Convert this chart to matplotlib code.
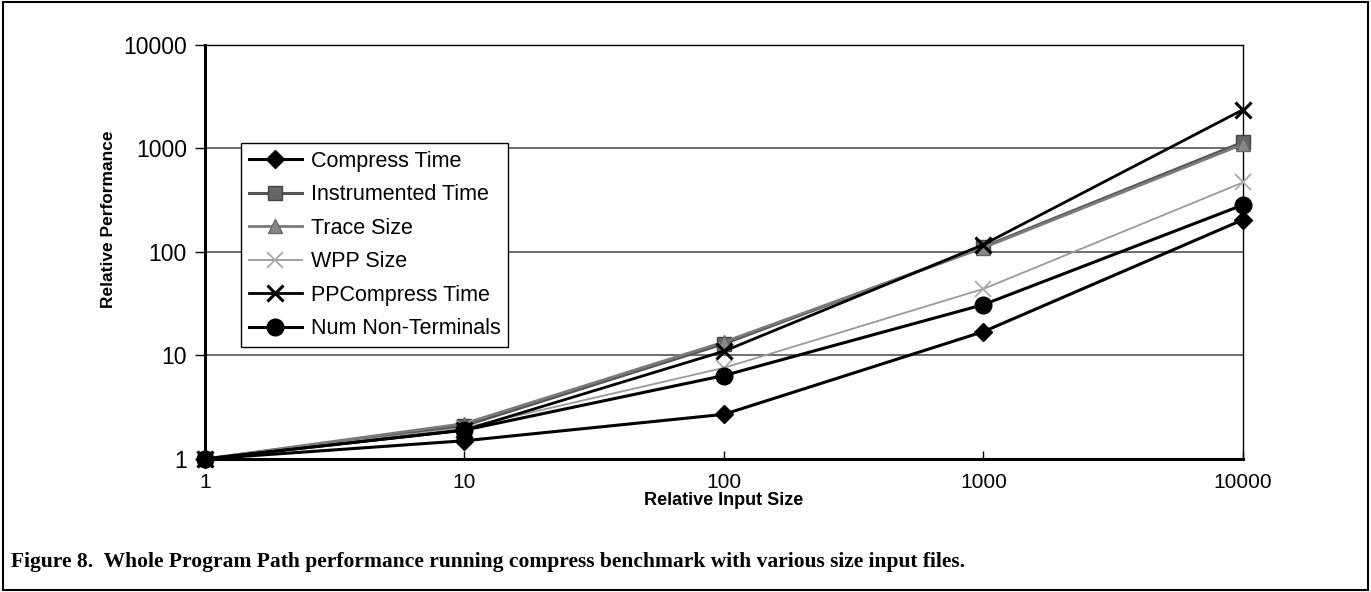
import matplotlib
matplotlib.use("Agg")
import matplotlib.pyplot as plt
from matplotlib.patches import Rectangle

x_sizes = [1, 10, 100, 1000, 10000]
compress_time = [1, 1.5, 2.7, 17, 205]
instrumented_time = [1, 2.1, 13, 112, 1150]
trace_size = [1, 2.2, 13.5, 110, 1100]
wpp_size = [1, 2.0, 7.6, 44, 470]
ppcompress_time = [1, 1.9, 11, 118, 2370]
num_nonterminals = [1, 1.9, 6.4, 31, 285]

y_ticks = [1, 10, 100, 1000, 10000]
tick_labels = ["1", "10", "100", "1000", "10000"]

fig = plt.figure(figsize=(13.71, 5.92), dpi=100)
ax = fig.add_axes([0.1495, 0.2247, 0.7571, 0.6993])
ax.set_xscale("log")
ax.set_yscale("log")
ax.set_xlim(1, 10000)
ax.set_ylim(1, 10000)

series = [
    ("Compress Time", compress_time, dict(color="black", lw=2.2, marker="D", ms=9, mfc="black", mec="black")),
    ("Instrumented Time", instrumented_time, dict(color="#555555", lw=2.2, marker="s", ms=10, mfc="#666666", mec="#444444")),
    ("Trace Size", trace_size, dict(color="#7a7a7a", lw=2.0, marker="^", ms=10, mfc="#888888", mec="#666666")),
    ("WPP Size", wpp_size, dict(color="#9a9a9a", lw=1.3, marker="x", ms=11, mew=1.3, mec="#aaaaaa")),
    ("PPCompress Time", ppcompress_time, dict(color="black", lw=2.0, marker="x", ms=12, mew=2.2, mec="black")),
    ("Num Non-Terminals", num_nonterminals, dict(color="black", lw=2.2, marker="o", ms=12, mfc="black", mec="black")),
]
for name, vals, st in series:
    ax.plot(x_sizes, vals, label=name, zorder=3, clip_on=False, **st)

ax.set_xticks(x_sizes)
ax.set_xticklabels(tick_labels, fontsize=15, family="Liberation Sans")
ax.set_yticks(y_ticks)
ax.set_yticklabels(tick_labels, fontsize=16.5, family="Liberation Sans")
ax.minorticks_off()
ax.tick_params(axis="x", direction="in", length=6, width=1, pad=10)
ax.tick_params(axis="y", direction="out", length=7, width=1, pad=6)
for y in [10, 100, 1000]:
    ax.axhline(y, color="#555555", lw=1.2, zorder=1)
for s in ax.spines.values():
    s.set_linewidth(1.0)
ax.spines["left"].set_linewidth(2.2)
ax.spines["bottom"].set_linewidth(2.2)

ax.set_xlabel("Relative Input Size", fontsize=13, fontweight="bold", family="Liberation Sans", labelpad=0)
ax.set_ylabel("Relative Performance", fontsize=12.5, fontweight="bold", family="Liberation Sans")
ax.yaxis.set_label_coords(-0.086, 0.58)

leg = ax.legend(loc="upper left", bbox_to_anchor=(0.0347, 0.763), frameon=True, fancybox=False,
                edgecolor="black", framealpha=1, prop={"family": "Liberation Sans", "size": 15.5},
                handlelength=2.5, borderpad=0.35, labelspacing=0.58, handletextpad=0.4, borderaxespad=0)
leg.get_frame().set_linewidth(1.0)
leg.set_zorder(5)

fig.text(0.008, 0.05, "Figure 8.  Whole Program Path performance running compress benchmark with various size input files.",
         fontsize=15.5, fontweight="bold", family="Liberation Serif", ha="left", va="center")

fig.patches.append(Rectangle((0.002, 0.003), 0.996, 0.994, transform=fig.transFigure,
                             fill=False, edgecolor="black", lw=1.5))

fig.savefig("out.png", dpi=100)
